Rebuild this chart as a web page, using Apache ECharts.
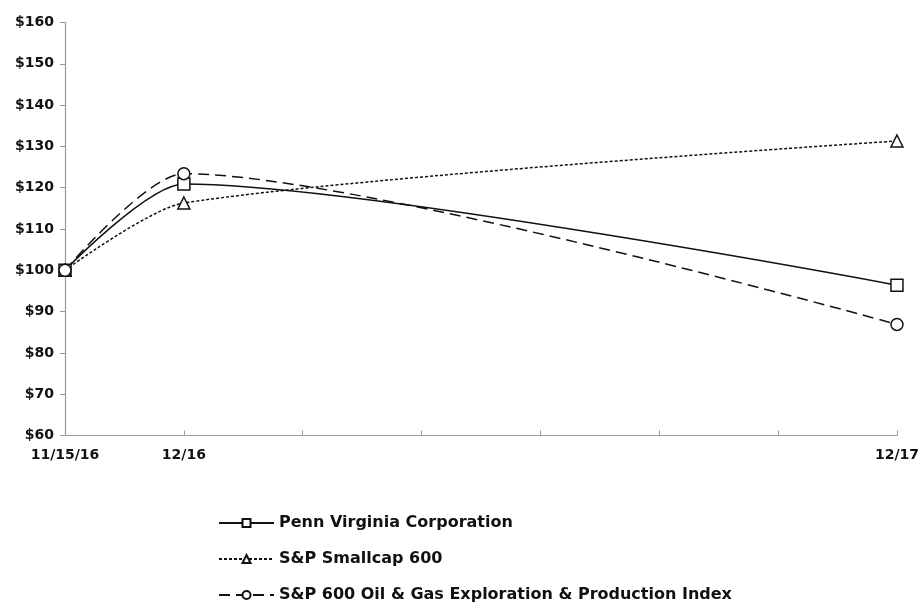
<!DOCTYPE html>
<html>
<head>
<meta charset="utf-8">
<script src="https://cdn.jsdelivr.net/npm/echarts@6/dist/echarts.min.js"></script>
<style>
html,body{margin:0;padding:0;background:#fff;}
#chart{width:922px;height:602px;}
</style>
</head>
<body>
<div id="chart"></div>
<script>
// Tick labels of the x axis (one per tick, blank ticks unlabeled)
const tickLabels = ['11/15/16', '12/16', '', '', '', '', '', '12/17'];
// Position of each observation on the tick scale
const obsIndex = [0, 1, 7];
const seriesNames = [
  'Penn Virginia Corporation',
  'S&P Smallcap 600',
  'S&P 600 Oil & Gas Exploration & Production Index'
];
const pennVirginia = [100, 120.9, 96.4];
const smallcap600 = [100, 116.3, 131.3];
const oilGasEP = [100, 123.4, 86.9];

const FONT = 'DejaVu Sans';
const chart = echarts.init(document.getElementById('chart'), null, {renderer: 'canvas'});

function pairs(vals) {
  return vals.map((v, i) => [obsIndex[i], v]);
}
function mkSeries(name, vals, symbol, dashType) {
  return {
    name: name,
    type: 'line',
    data: pairs(vals),
    smooth: 0.25,
    symbol: symbol,
    symbolSize: 12,
    showAllSymbol: true,
    lineStyle: {color: '#111', width: 1.5, type: dashType},
    itemStyle: {color: '#fff', borderColor: '#111', borderWidth: 1.5},
    emphasis: {disabled: true},
    z: 2
  };
}

chart.setOption({
  animation: false,
  backgroundColor: '#fff',
  grid: {left: 65, right: 23, top: 22.5, bottom: 166.5, containLabel: false},
  xAxis: {
    type: 'value',
    min: 0,
    max: tickLabels.length - 1,
    interval: 1,
    axisLine: {show: true, lineStyle: {color: '#999', width: 1.2}},
    axisTick: {show: true, inside: true, length: 5, lineStyle: {color: '#999'}},
    splitLine: {show: false},
    axisLabel: {
      margin: 13,
      fontFamily: FONT,
      fontWeight: 'bold',
      fontSize: 14,
      color: '#111',
      showMinLabel: true,
      showMaxLabel: true,
      formatter: v => tickLabels[Math.round(v)] || ''
    }
  },
  yAxis: {
    type: 'value',
    min: 60,
    max: 160,
    interval: 10,
    axisLine: {show: true, lineStyle: {color: '#999', width: 1.2}},
    axisTick: {show: true, inside: false, length: 5, lineStyle: {color: '#999'}},
    splitLine: {show: false},
    axisLabel: {
      margin: 11,
      fontFamily: FONT,
      fontWeight: 'bold',
      fontSize: 14,
      color: '#111',
      formatter: '${value}'
    }
  },
  legend: {
    orient: 'vertical',
    left: 218,
    top: 515,
    height: 110,
    padding: 0,
    itemWidth: 55,
    itemHeight: 10,
    itemGap: 20,
    selectedMode: false,
    textStyle: {fontFamily: FONT, fontWeight: 'bold', fontSize: 16, lineHeight: 16, color: '#111'},
    data: seriesNames
  },
  series: [
    mkSeries(seriesNames[0], pennVirginia, 'rect', 'solid'),
    mkSeries(seriesNames[1], smallcap600, 'triangle', [3, 2]),
    mkSeries(seriesNames[2], oilGasEP, 'circle', [11, 6])
  ]
});
</script>
</body>
</html>
